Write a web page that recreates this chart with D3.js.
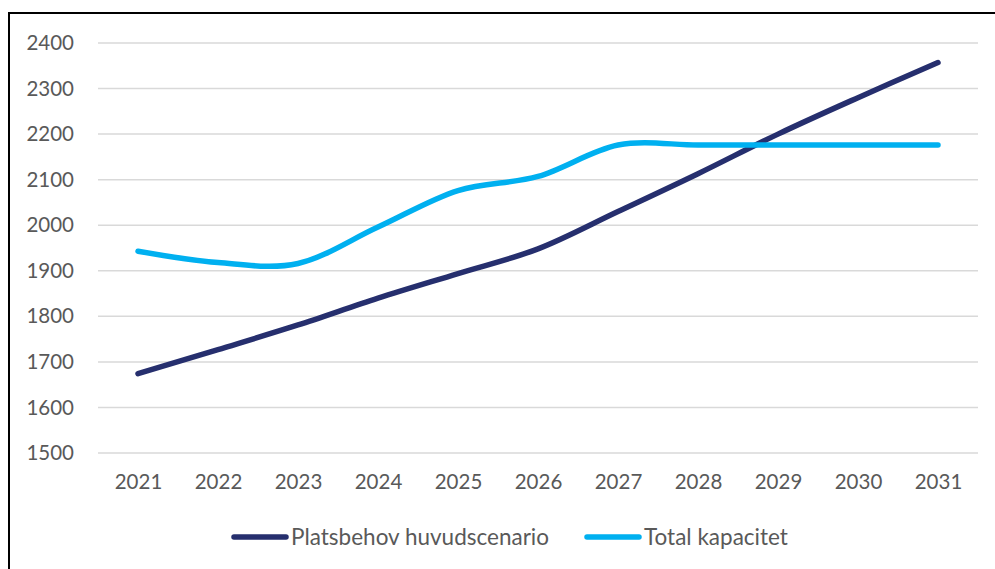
<!DOCTYPE html>
<html>
<head>
<meta charset="utf-8">
<script src="https://cdn.jsdelivr.net/npm/d3@7"></script>
<style>
  body { margin: 0; background: #fff; }
  text { font-family: Lato, "Open Sans", sans-serif; fill: #595959; }
</style>
</head>
<body>
<svg id="chart" width="995" height="569"></svg>
<script>
const years = ["2021", "2022", "2023", "2024", "2025", "2026", "2027", "2028", "2029", "2030", "2031"];
const platsbehov = [1674, 1727, 1781, 1840, 1894, 1948, 2030, 2113, 2200, 2280, 2357];
const kapacitet = [1943, 1918, 1916, 1996, 2076, 2107, 2176, 2176, 2176, 2176, 2176];
const yTicks = [1500, 1600, 1700, 1800, 1900, 2000, 2100, 2200, 2300, 2400];

const SERIES = [
  { name: "Platsbehov huvudscenario", values: platsbehov, color: "#262f6e" },
  { name: "Total kapacitet", values: kapacitet, color: "#00b0f0" },
];

const PLOT = { left: 98, right: 978, top: 43, bottom: 453 };

const svg = d3.select("#chart");

// outer frame (only top and left edges visible)
svg
  .append("rect")
  .attr("x", 9)
  .attr("y", 13)
  .attr("width", 1100)
  .attr("height", 700)
  .attr("fill", "none")
  .attr("stroke", "#000")
  .attr("stroke-width", 2);

const x = d3
  .scalePoint()
  .domain(years)
  .range([PLOT.left, PLOT.right])
  .padding(0.5);

const y = d3
  .scaleLinear()
  .domain([1500, 2400])
  .range([PLOT.bottom, PLOT.top]);

// gridlines
svg
  .append("g")
  .selectAll("line")
  .data(yTicks)
  .join("line")
  .attr("x1", PLOT.left)
  .attr("x2", PLOT.right)
  .attr("y1", (d) => y(d))
  .attr("y2", (d) => y(d))
  .attr("stroke", "#d9d9d9")
  .attr("stroke-width", 1.5);

// y axis labels
const yAxis = svg
  .append("g")
  .attr("transform", `translate(${PLOT.left + 5}, 0)`)
  .call(
    d3
      .axisLeft(y)
      .tickValues(yTicks)
      .tickFormat(d3.format("d"))
      .tickSize(0)
      .tickPadding(29)
  );
yAxis.select(".domain").remove();
yAxis.selectAll("text").attr("font-size", 20.5).attr("fill", "#595959").attr("font-family", "Lato");

// x axis labels
const xAxis = svg
  .append("g")
  .attr("transform", `translate(0, ${PLOT.bottom})`)
  .call(d3.axisBottom(x).tickSize(0).tickPadding(21));
xAxis.select(".domain").remove();
xAxis.selectAll("text").attr("font-size", 20.5).attr("fill", "#595959").attr("font-family", "Lato");

const line = d3
  .line()
  .x((d, i) => x(years[i]))
  .y((d) => y(d))
  .curve(d3.curveCardinal.tension(0));

svg
  .append("g")
  .selectAll("path")
  .data(SERIES)
  .join("path")
  .attr("d", (s) => line(s.values))
  .attr("fill", "none")
  .attr("stroke", (s) => s.color)
  .attr("stroke-width", 5.5)
  .attr("stroke-linecap", "round")
  .attr("stroke-linejoin", "round");

// legend
const legendX = [232, 585];
const legend = svg
  .append("g")
  .selectAll("g")
  .data(SERIES)
  .join("g")
  .attr("transform", (d, i) => `translate(${legendX[i]}, 537)`);

legend
  .append("line")
  .attr("x1", 2)
  .attr("x2", 54)
  .attr("stroke", (d) => d.color)
  .attr("stroke-width", 5.5)
  .attr("stroke-linecap", "round");

legend
  .append("text")
  .attr("x", 59)
  .attr("dy", "0.35em")
  .attr("font-size", 22.5)
  .text((d) => d.name);
</script>
</body>
</html>
